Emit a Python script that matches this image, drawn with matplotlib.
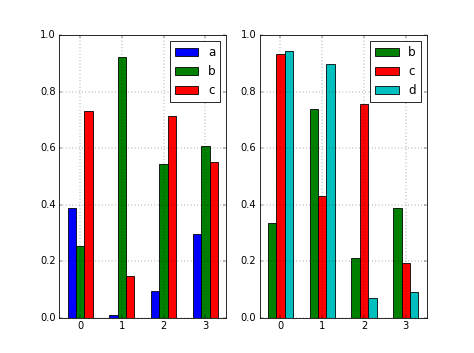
import numpy as np
import matplotlib
matplotlib.use("Agg")
import matplotlib.pyplot as plt

plt.style.use("classic")

# values
index = [0, 1, 2, 3]

left_cols = ["a", "b", "c"]
left_colors = ["b", "g", "r"]
left_a = [0.387, 0.008, 0.094, 0.298]
left_b = [0.254, 0.922, 0.544, 0.608]
left_c = [0.731, 0.147, 0.713, 0.552]

right_cols = ["b", "c", "d"]
right_colors = ["g", "r", "c"]
right_b = [0.337, 0.738, 0.211, 0.389]
right_c = [0.935, 0.430, 0.758, 0.192]
right_d = [0.943, 0.899, 0.068, 0.091]

bar_w = 0.2


def grouped_bars(ax, cols, series, colors):
    x = np.arange(len(index))
    n = len(series)
    for i, (name, vals, col) in enumerate(zip(cols, series, colors)):
        offset = (i - (n - 1) / 2) * bar_w
        ax.bar(x + offset, vals, bar_w, color=col, label=name, align="center")
    ax.set_xticks(x)
    ax.set_xticklabels([str(v) for v in index])
    ax.set_xlim(-0.5, len(index) - 0.5)
    ax.set_ylim(0, 1.0)
    ax.grid(True)
    ax.legend(loc="upper right")


dpi = 59.25
fig, (ax1, ax2) = plt.subplots(1, 2, figsize=(474 / dpi, 353 / dpi), dpi=dpi)
fig.subplots_adjust(left=0.125, right=0.9, bottom=0.1, top=0.9, wspace=0.2)

grouped_bars(ax1, left_cols, [left_a, left_b, left_c], left_colors)
grouped_bars(ax2, right_cols, [right_b, right_c, right_d], right_colors)

fig.savefig("out.png", dpi=dpi, facecolor="white")
